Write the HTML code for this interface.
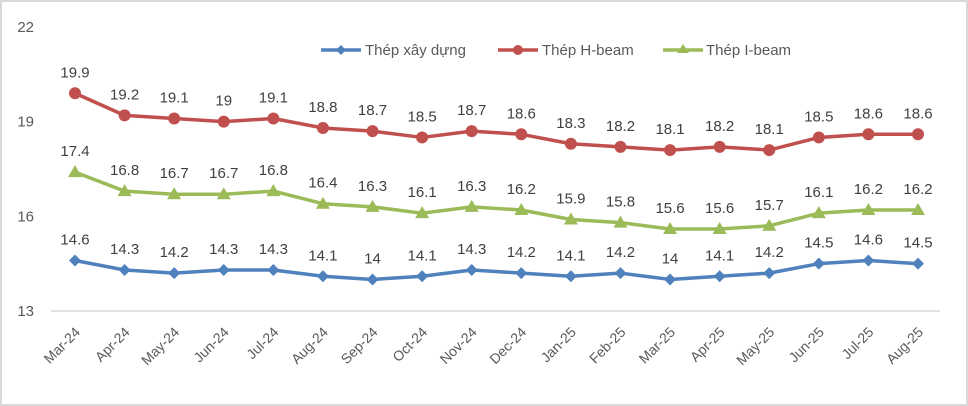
<!DOCTYPE html>
<html><head><meta charset="utf-8"><style>
body{margin:0;background:#fff;}
svg{display:block;font-family:"Liberation Sans",sans-serif;}
</style></head><body>
<svg id="chart" width="968" height="406">
<rect x="1" y="1" width="966" height="404" fill="#fff" stroke="#d9d9d9" stroke-width="2"/>
<g id="yaxis"></g>
<g id="xaxis"></g>
<g id="series"></g>
<g>
<g>
<line x1="321" y1="50" x2="361" y2="50" stroke="#4F81BD" stroke-width="3.5"/>
<path d="M341 45 L346 50 L341 55 L336 50Z" fill="#4F81BD"/>
<text x="365" y="55" font-size="15" fill="#595959">Thép xây dựng</text></g>
<g>
<line x1="498" y1="50" x2="538" y2="50" stroke="#C0504D" stroke-width="3.5"/>
<circle cx="518" cy="50" r="5" fill="#C0504D"/>
<text x="542" y="55" font-size="15" fill="#595959">Thép H-beam</text></g>
<g>
<line x1="663" y1="50" x2="703" y2="50" stroke="#9BBB59" stroke-width="3.5"/>
<path d="M683 44 L689 53 L677 53Z" fill="#9BBB59"/>
<text x="706" y="55" font-size="15" fill="#595959">Thép I-beam</text></g>
</g>
</svg>
<script>
const categories=["Mar-24","Apr-24","May-24","Jun-24","Jul-24","Aug-24","Sep-24","Oct-24","Nov-24","Dec-24","Jan-25","Feb-25","Mar-25","Apr-25","May-25","Jun-25","Jul-25","Aug-25"];
const xayDung=[14.6,14.3,14.2,14.3,14.3,14.1,14,14.1,14.3,14.2,14.1,14.2,14,14.1,14.2,14.5,14.6,14.5];
const hBeam=[19.9,19.2,19.1,19,19.1,18.8,18.7,18.5,18.7,18.6,18.3,18.2,18.1,18.2,18.1,18.5,18.6,18.6];
const iBeam=[17.4,16.8,16.7,16.7,16.8,16.4,16.3,16.1,16.3,16.2,15.9,15.8,15.6,15.6,15.7,16.1,16.2,16.2];
const yTicks=[13,16,19,22];
const NS="http://www.w3.org/2000/svg";
const x=i=>75+i*(843/17);
const y=v=>311-(v-13)*(284/9);
function mk(tag,attrs,parent){const e=document.createElementNS(NS,tag);for(const k in attrs)e.setAttribute(k,attrs[k]);parent.appendChild(e);return e;}
const ya=document.getElementById('yaxis'),xa=document.getElementById('xaxis'),sg=document.getElementById('series');
yTicks.forEach(t=>{const tx=mk('text',{x:34,y:y(t)+5,'font-size':15,fill:'#595959','text-anchor':'end'},ya);tx.textContent=t;

});
const ax=mk('line',{x1:51,y1:y(13),x2:940,y2:y(13),stroke:'#d9d9d9','stroke-width':1.5},xa);


categories.forEach((c,i)=>{const tx=mk('text',{x:0,y:0,'font-size':14,fill:'#595959','text-anchor':'end',transform:`translate(${x(i)+6},${y(13)+22}) rotate(-45)`},xa);tx.textContent=c;

});
function series(vals,color,shape,name){
const g=mk('g',{},sg);


const p=mk('polyline',{points:vals.map((v,i)=>x(i)+','+y(v)).join(' '),fill:'none',stroke:color,'stroke-width':3.5,'stroke-linejoin':'round'},g);


vals.forEach((v,i)=>{const cx=x(i),cy=y(v);let m;
if(shape==='d')m=mk('path',{d:`M${cx} ${cy-6}L${cx+6} ${cy}L${cx} ${cy+6}L${cx-6} ${cy}Z`,fill:color},g);
else if(shape==='c')m=mk('circle',{cx:cx,cy:cy,r:6,fill:color},g);
else m=mk('path',{d:`M${cx} ${cy-7}L${cx+7} ${cy+5}L${cx-7} ${cy+5}Z`,fill:color},g);


const t=mk('text',{x:cx,y:cy-16,'font-size':15,fill:'#404040','text-anchor':'middle'},g);t.textContent=v;

});}
series(xayDung,'#4F81BD','d','series-xay-dung');
series(hBeam,'#C0504D','c','series-h-beam');
series(iBeam,'#9BBB59','t','series-i-beam');
</script>
</body></html>
